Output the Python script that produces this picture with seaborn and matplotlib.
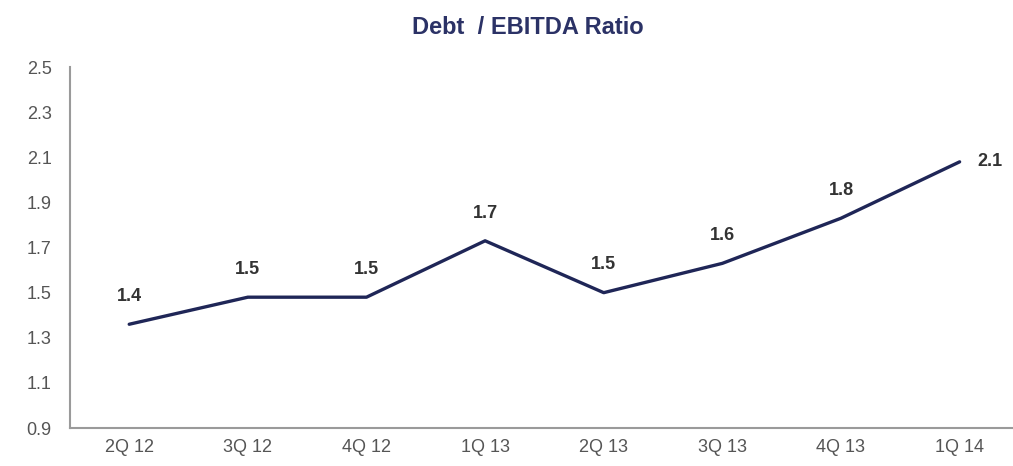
import matplotlib
matplotlib.use("Agg")
import matplotlib.pyplot as plt
import seaborn as sns
import pandas as pd

quarters = ["2Q 12", "3Q 12", "4Q 12", "1Q 13", "2Q 13", "3Q 13", "4Q 13", "1Q 14"]
ratio = [1.36, 1.48, 1.48, 1.73, 1.50, 1.63, 1.83, 2.08]
y_ticks = [0.9, 1.1, 1.3, 1.5, 1.7, 1.9, 2.1, 2.3, 2.5]

df = pd.DataFrame({"quarter": quarters, "ratio": ratio, "pos": range(len(quarters))})

sns.set_theme(style="white")
plt.rcParams["font.family"] = ["Liberation Sans", "DejaVu Sans"]

navy = "#1f2657"
fig = plt.figure(figsize=(10.13, 4.66), dpi=100)
ax = fig.add_axes([0.069, 0.0815, 0.931, 0.7745])

sns.lineplot(data=df, x="pos", y="ratio", color=navy, linewidth=2.4, ax=ax)

for i, v in enumerate(ratio):
    if i == len(ratio) - 1:
        ax.annotate(f"{v:.1f}", (i, v), xytext=(13, 0), textcoords="offset points",
                    ha="left", va="center", fontsize=13, fontweight="bold", color="#333333")
    else:
        ax.annotate(f"{v:.1f}", (i, v), xytext=(0, 20), textcoords="offset points",
                    ha="center", va="center", fontsize=13, fontweight="bold", color="#333333")

ax.set_xlim(-0.5, 7.45)
ax.set_ylim(0.9, 2.5)
ax.set_xticks(range(len(quarters)))
ax.set_xticklabels(quarters)
ax.set_yticks(y_ticks)
ax.set_yticklabels([f"{t:.1f}" for t in y_ticks])
ax.tick_params(axis="both", length=0, labelsize=13, colors="#555555")
ax.tick_params(axis="x", pad=8)
ax.tick_params(axis="y", pad=13)
ax.set_xlabel("")
ax.set_ylabel("")

for side in ["top", "right"]:
    ax.spines[side].set_visible(False)
for side in ["left", "bottom"]:
    ax.spines[side].set_color("#9a9a9a")
    ax.spines[side].set_linewidth(1.5)

fig.text(0.521, 0.94, "Debt  / EBITDA Ratio", ha="center", va="center",
         fontsize=17, fontweight="bold", color="#2b3266")

fig.savefig("out.png", dpi=100, facecolor="white")
